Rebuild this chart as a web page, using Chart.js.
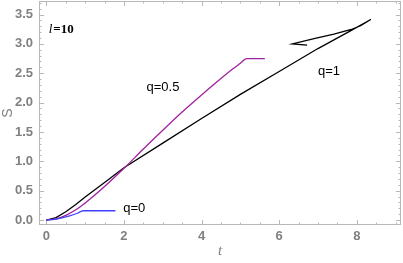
<!DOCTYPE html>
<html>
<head>
<meta charset="utf-8">
<script src="https://cdn.jsdelivr.net/npm/chart.js@4/dist/chart.umd.min.js"></script>
<style>
  html, body { margin: 0; padding: 0; background: #fff; }
  #wrap { width: 403px; height: 263px; }
</style>
</head>
<body>
<div id="wrap"><canvas id="chart"></canvas></div>
<script>
// values
const blueT = [0, 0.2, 0.4, 0.6, 0.8, 0.95, 1.78];
const blueS = [0, 0.01, 0.035, 0.07, 0.115, 0.158, 0.158];

const purpleT = [0, 0.25, 0.5, 0.75, 1, 1.5, 2, 2.5, 3, 3.5, 4, 4.5, 4.8, 5.0, 5.16, 5.63];
const purpleS = [0, 0.02, 0.08, 0.17, 0.29, 0.57, 0.88, 1.21, 1.53, 1.84, 2.13, 2.41, 2.57, 2.67, 2.75, 2.75];

// q=1 folds back on itself (swallowtail), so points are kept in drawing order
const blackT = [0, 0.25, 0.5, 0.75, 1, 1.5, 2, 3, 4, 5, 6, 7, 7.86, 8.36, 8.1, 7.86, 7.41, 6.9, 6.34, 6.72];
const blackS = [0, 0.04, 0.14, 0.26, 0.39, 0.64, 0.89, 1.31, 1.73, 2.14, 2.53, 2.92, 3.23, 3.415, 3.31, 3.245, 3.165, 3.09, 3.0, 2.98];

const xTicks = [0, 2, 4, 6, 8];
const yTicks = [0, 0.5, 1, 1.5, 2, 2.5, 3, 3.5];

const labels = [
  { text: "q=0", t: 1.98, s: 0.2 },
  { text: "q=0.5", t: 2.58, s: 2.26 },
  { text: "q=1", t: 7.0, s: 2.535 }
];

function pts(xs, ys) {
  return xs.map((x, i) => ({ x: x, y: ys[i] }));
}

const gray = "#808080";
const tickFont = { family: "'Liberation Sans', Arial, sans-serif", size: 13, weight: "bold" };

// Mathematica-style frame with inward ticks on all four sides
const framePlugin = {
  id: "frame",
  beforeDatasetsDraw(chart) {
    const { ctx, chartArea: a, scales } = chart;
    const xs = scales.x, ys = scales.y;
    ctx.save();
    ctx.strokeStyle = "#b8b8b8";
    ctx.lineWidth = 1;
    ctx.strokeRect(a.left + 0.5, a.top + 0.5, a.right - a.left - 1, a.bottom - a.top - 1);
    ctx.beginPath();
    for (let v = -0.5; v <= 9.5; v += 0.5) {
      const p = Math.round(xs.getPixelForValue(v)) + 0.5;
      if (p < a.left + 1 || p > a.right - 1) continue;
      const len = (Math.abs(v % 2) < 1e-6) ? 5 : 2.5;
      ctx.moveTo(p, a.bottom); ctx.lineTo(p, a.bottom - len);
      ctx.moveTo(p, a.top); ctx.lineTo(p, a.top + len);
    }
    for (let k = -1; k <= 38; k++) {
      const v = k / 10;
      const p = Math.round(ys.getPixelForValue(v)) + 0.5;
      if (p < a.top + 1 || p > a.bottom - 1) continue;
      const len = (k % 5 === 0) ? 5 : 2.5;
      ctx.moveTo(a.left, p); ctx.lineTo(a.left + len, p);
      ctx.moveTo(a.right, p); ctx.lineTo(a.right - len, p);
    }
    ctx.stroke();
    ctx.restore();
  },
  afterDatasetsDraw(chart) {
    const { ctx, scales } = chart;
    ctx.save();
    ctx.fillStyle = "#000";
    ctx.textBaseline = "middle";
    ctx.font = "13px 'Liberation Sans', Arial, sans-serif";
    labels.forEach(l => {
      ctx.fillText(l.text, scales.x.getPixelForValue(l.t), scales.y.getPixelForValue(l.s));
    });
    // l=10 tag
    const lx = scales.x.getPixelForValue(0.06), ly = scales.y.getPixelForValue(3.25);
    ctx.font = "italic 13px 'Liberation Serif', serif";
    ctx.fillText("l", lx, ly);
    const w = ctx.measureText("l").width;
    ctx.font = "bold 13px 'Liberation Serif', serif";
    ctx.fillText("=10", lx + w + 1, ly);
    ctx.restore();
  }
};

new Chart(document.getElementById("chart"), {
  type: "scatter",
  data: {
    datasets: [
      { label: "q=0", data: pts(blueT, blueS), borderColor: "#4040ff", cubicInterpolationMode: "monotone" },
      { label: "q=0.5", data: pts(purpleT, purpleS), borderColor: "#a020a0", cubicInterpolationMode: "monotone" },
      { label: "q=1", data: pts(blackT, blackS), borderColor: "#000000" }
    ]
  },
  options: {
    responsive: true,
    maintainAspectRatio: false,
    animation: false,
    showLine: true,
    elements: {
      point: { radius: 0, hoverRadius: 0 },
      line: { borderWidth: 1.3, tension: 0, fill: false }
    },
    layout: { padding: { left: 0, right: 2, top: 1, bottom: 0 } },
    plugins: {
      legend: { display: false },
      tooltip: { enabled: false }
    },
    scales: {
      x: {
        type: "linear",
        min: -0.19,
        max: 9.14,
        grid: { display: false, drawTicks: false },
        border: { display: false },
        afterBuildTicks: s => { s.ticks = xTicks.map(v => ({ value: v })); },
        afterFit: s => { s.height = 38; s.paddingLeft = 0; s.paddingRight = 0; },
        ticks: {
          padding: 4,
          color: gray,
          font: tickFont,
          callback: v => String(v)
        },
        title: {
          display: true,
          text: "t",
          color: gray,
          padding: { top: 0, bottom: 3 },
          font: { family: "'Liberation Serif', serif", size: 15, style: "italic" }
        }
      },
      y: {
        type: "linear",
        min: -0.085,
        max: 3.73,
        grid: { display: false, drawTicks: false },
        border: { display: false },
        afterBuildTicks: s => { s.ticks = yTicks.map(v => ({ value: v })); },
        afterFit: s => { s.width = 39; s.paddingTop = 0; s.paddingBottom = 0; },
        ticks: {
          padding: 6,
          color: gray,
          font: tickFont,
          callback: v => v.toFixed(1)
        },
        title: {
          display: true,
          text: "S",
          color: gray,
          padding: 0,
          font: { family: "'Liberation Sans', Arial, sans-serif", size: 14 }
        }
      }
    }
  },
  plugins: [framePlugin]
});
</script>
</body>
</html>
